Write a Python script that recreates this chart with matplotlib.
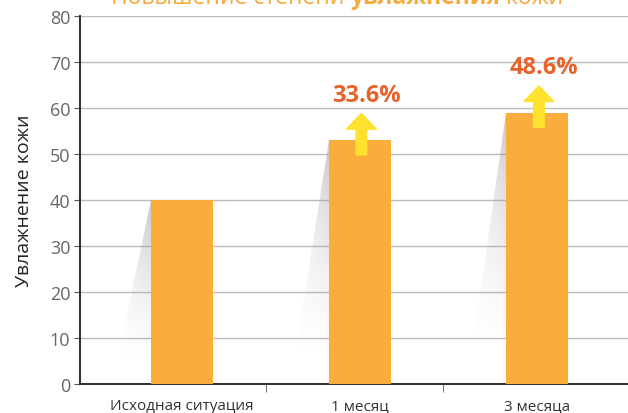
import numpy as np
import matplotlib.pyplot as plt
from matplotlib.patches import Polygon, FancyArrow

plt.rcParams['font.family'] = ['Open Sans', 'DejaVu Sans']

categories = ['Исходная ситуация', '1 месяц', '3 месяца']
values = [40, 53, 59]
gains = [None, '33.6%', '48.6%']
title_parts = ['Повышение степени ', 'увлажнения', ' кожи']
yticks = [0, 10, 20, 30, 40, 50, 60, 70, 80]

bar_color = '#FAAC3C'
label_color = '#E8632B'
arrow_color = '#FFE22E'

fig = plt.figure(figsize=(6.28, 4.14), dpi=100)
ax = fig.add_axes([80 / 628, 1 - 385 / 414, 548 / 628, 368 / 414])

x = np.arange(len(categories))
width = 0.35
ax.bar(x, values, width=width, color=bar_color, zorder=3)

# soft grey shadows on the left of each bar, fading down and to the left
ny, nx = 200, 100
vy = np.linspace(0, 1, ny).reshape(-1, 1)
hx = np.linspace(0, 1, nx).reshape(1, -1)
shade = np.zeros((ny, nx, 4))
shade[..., :3] = 0.62
shade[..., 3] = 0.55 * vy ** 1.3 * (0.35 + 0.65 * hx)
for xi, v in zip(x, values):
    left = xi - width / 2
    bottom = v * 0.12
    poly = Polygon([(left, v), (left, bottom), (left - 0.19, bottom)],
                   closed=True, facecolor='none', edgecolor='none')
    ax.add_patch(poly)
    im = ax.imshow(shade, extent=(left - 0.19, left, bottom, v), aspect='auto',
                   origin='lower', zorder=2, interpolation='bilinear')
    im.set_clip_path(poly)

ax.set_xlim(-0.575, 2.512)
ax.set_ylim(0, 80)
ax.set_yticks(yticks)
ax.set_xticks(x)
ax.set_xticklabels(categories, fontsize=11, color='#333333')
ax.set_xticks(x[:-1] + 0.47, minor=True)
ax.tick_params(axis='x', which='major', length=0, pad=10)
ax.tick_params(axis='x', which='minor', length=6, direction='out', color='#555555')
ax.tick_params(axis='y', length=4, color='#555555', labelsize=13, labelcolor='#666666', pad=3)
ax.grid(axis='y', color='#BBBBBB', linewidth=1, zorder=0)
ax.set_axisbelow(True)
for s in ['top', 'right']:
    ax.spines[s].set_visible(False)
for s in ['left', 'bottom']:
    ax.spines[s].set_color('#333333')
    ax.spines[s].set_linewidth(1.5)
ax.set_ylabel('Увлажнение кожи', fontsize=14, color='#222222', labelpad=12)

# arrows and percentage labels
for xi, v, g in zip(x, values, gains):
    if g is None:
        continue
    ax.add_patch(FancyArrow(xi + 0.01, v - 3.2, 0, 9.0, width=0.06, head_width=0.17,
                            head_length=3.4, length_includes_head=True,
                            color=arrow_color, zorder=4))
    ax.text(xi + 0.04, v + 7.2, g, ha='center', va='bottom', fontsize=17,
            fontweight='bold', color=label_color)

# title, partly cut off at the top
fig.canvas.draw()
renderer = fig.canvas.get_renderer()
texts = []
for i, part in enumerate(title_parts):
    t = fig.text(0, 1 - 4 / 414, part, fontsize=16.5, color='#F7A93A',
                 fontweight='bold' if i == 1 else 'normal', va='baseline', ha='left')
    texts.append(t)
widths = [t.get_window_extent(renderer).width for t in texts]
xpos = 337 - sum(widths) / 2
for t, w in zip(texts, widths):
    t.set_x(xpos / 628)
    xpos += w

fig.savefig('out.png', dpi=100)
